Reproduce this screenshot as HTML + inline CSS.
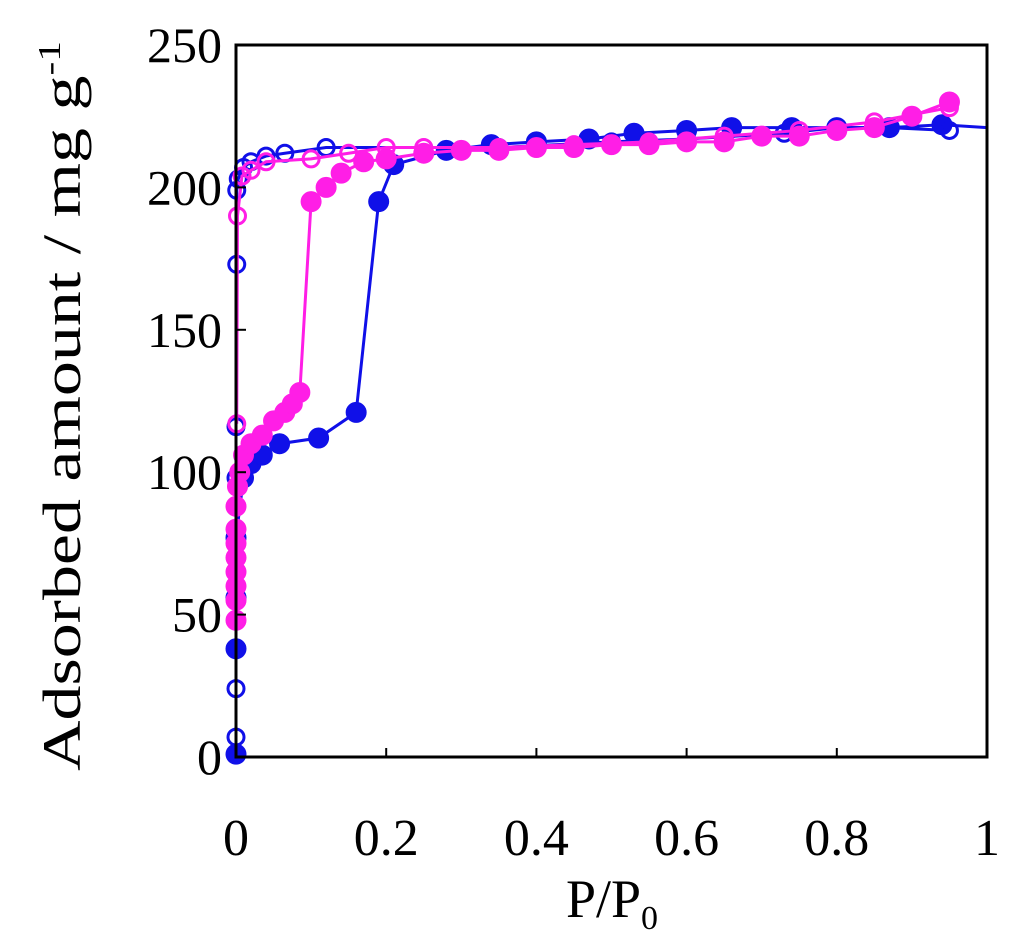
<!DOCTYPE html>
<html><head><meta charset="utf-8"><style>
body{margin:0;background:#fff;}
svg{display:block;font-family:"Liberation Serif",serif;}
</style></head><body>
<svg id="chart" width="1024" height="948">
<g id="marks"></g>
<rect x="236" y="45" width="751" height="712" fill="none" stroke="#000" stroke-width="3"/>
<g id="axes"></g>
<text x="80" y="406" font-size="54" text-anchor="middle" textLength="730" lengthAdjust="spacingAndGlyphs" transform="rotate(-90 80 406)">Adsorbed amount / mg g<tspan dy="-20" font-size="32">-1</tspan></text>
<text x="612" y="917" font-size="54" text-anchor="middle">P/P<tspan dy="12" font-size="34">0</tspan></text>
</svg>
<script>
const xTicks=[0,0.2,0.4,0.6,0.8,1];
const xTickLabels=["0","0.2","0.4","0.6","0.8","1"];
const yTicks=[0,50,100,150,200,250];
const yTickLabels=["0","50","100","150","200","250"];
const blueAdsX=[0,0,0,0,0.01,0.02,0.035,0.058,0.11,0.16,0.19,0.21,0.28,0.34,0.40,0.47,0.53,0.60,0.66,0.74,0.80,0.87,0.94,1.0];
const blueAdsY=[1,38,56,77,98,103,106,110,112,121,195,208,213,215,216,217,219,220,221,221,221,221,222,221];
const blueDesX=[0.95,0.87,0.80,0.73,0.60,0.50,0.35,0.12,0.065,0.04,0.02,0.01,0.003,0.001,0.001,0,0,0,0];
const blueDesY=[220,221,221,219,217,216,214,214,212,211,209,207,203,199,173,116,98,24,7];
const magAdsX=[0,0,0,0,0,0,0,0,0.002,0.005,0.01,0.02,0.035,0.05,0.065,0.075,0.085,0.1,0.12,0.14,0.17,0.2,0.25,0.3,0.35,0.4,0.45,0.5,0.55,0.6,0.65,0.7,0.75,0.8,0.85,0.9,0.95];
const magAdsY=[48,55,60,65,70,75,80,88,95,100,106,110,113,118,121,124,128,195,200,205,209,210,212,213,213,214,214,215,215,216,216,218,218,220,221,225,230];
const magDesX=[0.95,0.85,0.75,0.65,0.55,0.45,0.35,0.25,0.2,0.15,0.1,0.04,0.02,0.008,0.002,0.001];
const magDesY=[228,223,220,218,216,215,214,214,214,212,210,209,206,204,190,117];

const NS="http://www.w3.org/2000/svg";
const X=v=>236+751*v, Y=v=>757-v*2.848;
const marks=document.getElementById('marks'), axes=document.getElementById('axes');
function series(xs,ys,color,filled,name){
  const g=document.createElementNS(NS,'g');
  
  
  const pl=document.createElementNS(NS,'polyline');
  pl.setAttribute('points',xs.map((x,i)=>X(x)+','+Y(ys[i])).join(' '));
  pl.setAttribute('fill','none');pl.setAttribute('stroke',color);pl.setAttribute('stroke-width','3');
  
  
  g.appendChild(pl);
  xs.forEach((x,i)=>{
    if(x>=1)return;
    const c=document.createElementNS(NS,'circle');
    c.setAttribute('cx',X(x));c.setAttribute('cy',Y(ys[i]));
    c.setAttribute('r',filled?10:8);
    c.setAttribute('fill',filled?color:'none');
    c.setAttribute('stroke',color);c.setAttribute('stroke-width',filled?1:3);
    
    
    g.appendChild(c);
  });
  marks.appendChild(g);
}
series(blueAdsX,blueAdsY,'#1010e8',true,'blue-adsorption');
series(blueDesX,blueDesY,'#1010e8',false,'blue-desorption');
series(magAdsX,magAdsY,'#ff1ee6',true,'magenta-adsorption');
series(magDesX,magDesY,'#ff1ee6',false,'magenta-desorption');
xTicks.forEach((t,i)=>{
  const l=document.createElementNS(NS,'line');
  l.setAttribute('x1',X(t));l.setAttribute('x2',X(t));l.setAttribute('y1',757);l.setAttribute('y2',748);
  l.setAttribute('stroke','#000');l.setAttribute('stroke-width','2');
  
  
  axes.appendChild(l);
  const tx=document.createElementNS(NS,'text');
  tx.setAttribute('x',X(t));tx.setAttribute('y',855);tx.setAttribute('font-size','52');tx.setAttribute('text-anchor','middle');
  tx.textContent=xTickLabels[i];
  
  
  axes.appendChild(tx);
});
yTicks.forEach((t,i)=>{
  const l=document.createElementNS(NS,'line');
  l.setAttribute('x1',236);l.setAttribute('x2',246);l.setAttribute('y1',Y(t));l.setAttribute('y2',Y(t));
  l.setAttribute('stroke','#000');l.setAttribute('stroke-width','2');
  
  
  axes.appendChild(l);
  const tx=document.createElementNS(NS,'text');
  tx.setAttribute('x',222);tx.setAttribute('y',Y(t)+17);tx.setAttribute('font-size','50');tx.setAttribute('text-anchor','end');
  tx.textContent=yTickLabels[i];
  
  
  axes.appendChild(tx);
});
</script>
</body></html>
